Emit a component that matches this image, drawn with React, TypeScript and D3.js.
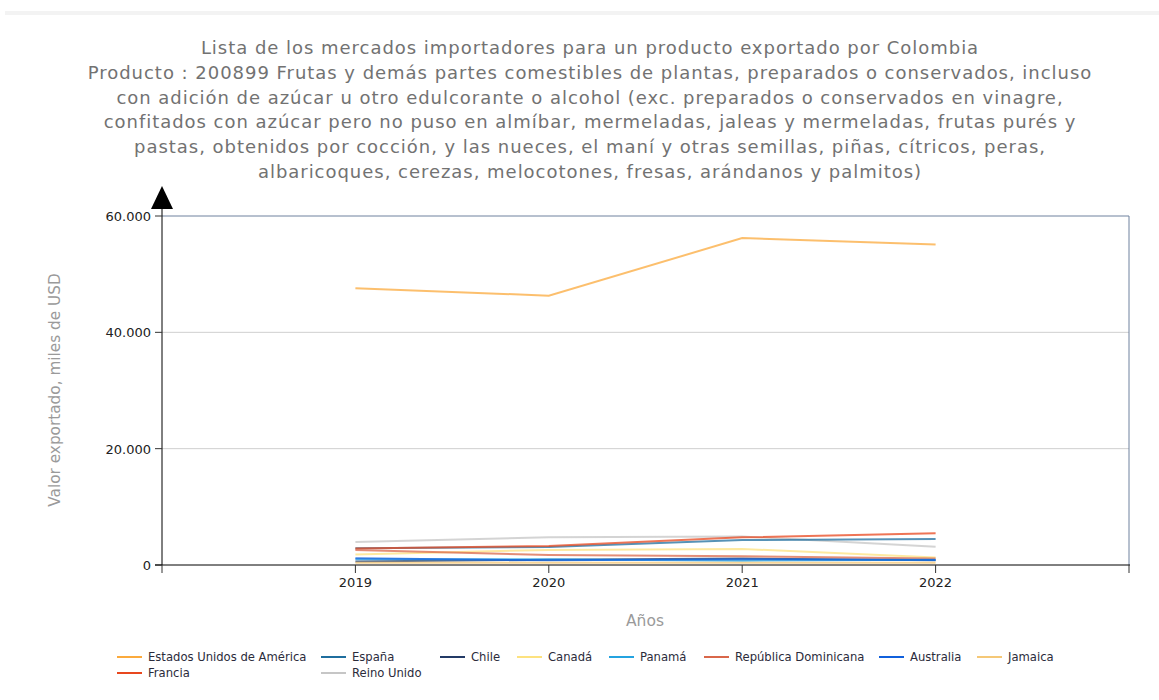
import React from "react";
import * as d3 from "d3";

const years = [2019, 2020, 2021, 2022];
const seriesNames = [
  "Estados Unidos de América",
  "España",
  "Chile",
  "Canadá",
  "Panamá",
  "República Dominicana",
  "Australia",
  "Jamaica",
  "Francia",
  "Reino Unido",
];
const seriesColors = [
  "#fbaa3c",
  "#1f6e9e",
  "#233a66",
  "#fde27f",
  "#24a3e0",
  "#d9674a",
  "#1060dc",
  "#f5c877",
  "#e8471e",
  "#c6c6c6",
];
const usaValues = [47600, 46300, 56200, 55100];
const espanaValues = [2900, 3100, 4300, 4450];
const chileValues = [600, 900, 1100, 800];
const canadaValues = [1800, 2600, 2750, 1300];
const panamaValues = [1000, 1000, 750, 900];
const repDomValues = [2600, 1700, 1500, 1100];
const australiaValues = [1150, 800, 1000, 850];
const jamaicaValues = [400, 400, 400, 400];
const franciaValues = [2850, 3250, 4750, 5450];
const reinoUnidoValues = [3950, 4750, 4900, 3150];
const seriesValues = [
  usaValues,
  espanaValues,
  chileValues,
  canadaValues,
  panamaValues,
  repDomValues,
  australiaValues,
  jamaicaValues,
  franciaValues,
  reinoUnidoValues,
];
const yTicks = [0, 20000, 40000, 60000];
const titleLines = [
  "Lista de los mercados importadores para un producto exportado por Colombia",
  "Producto : 200899 Frutas y demás partes comestibles de plantas, preparados o conservados, incluso",
  "con adición de azúcar u otro edulcorante o alcohol (exc. preparados o conservados en vinagre,",
  "confitados con azúcar pero no puso en almíbar, mermeladas, jaleas y mermeladas, frutas purés y",
  "pastas, obtenidos por cocción, y las nueces, el maní y otras semillas, piñas, cítricos, peras,",
  "albaricoques, cerezas, melocotones, fresas, arándanos y palmitos)",
];
// legend layout: [column x, row]
const legendPos: [number, number][] = [
  [117, 0], [321, 0], [440, 0], [517, 0], [609, 0], [704, 0], [879, 0], [977, 0],
  [117, 1], [321, 1],
];

const W = 1159;
const H = 700;
const left = 162;
const right = 1129;
const top = 216;
const bottom = 565;

export default function App() {
  const x = d3.scaleLinear().domain([2018, 2023]).range([left, right]);
  const y = d3.scaleLinear().domain([0, 60000]).range([bottom, top]);
  const line = d3
    .line<number>()
    .x((_, i) => x(years[i]))
    .y((d) => y(d));
  const fmt = (v: number) => d3.format(",")(v).replace(/,/g, ".");
  const font = "'DejaVu Sans', Verdana, sans-serif";
  const drawOrder = [9, 1, 8, 2, 3, 5, 4, 6, 7, 0];
  return (
    <div style={{ position: "absolute", left: 0, top: 0 }}>
      <svg width={W} height={H} style={{ display: "block", background: "#fff" }}>
        <rect x={5} y={11} width={W - 5} height={4} fill="#f3f3f3" />
        {titleLines.map((t, i) => (
          <text
            key={i}
            x={590}
            y={54 + i * 24.8}
            textAnchor="middle"
            fontFamily={font}
            fontSize={18}
            letterSpacing={0.97}
            fill="#727272"
          >
            {t}
          </text>
        ))}
        {/* gridlines */}
        {yTicks
          .filter((t) => t > 0 && t < 60000)
          .map((t) => (
            <line key={t} x1={left} x2={right} y1={y(t)} y2={y(t)} stroke="#cfcfcf" strokeWidth={1} />
          ))}
        {/* frame top & right */}
        <line x1={left} x2={right} y1={top} y2={top} stroke="#6f819e" strokeWidth={1} />
        <line x1={right} x2={right} y1={top} y2={bottom} stroke="#6f819e" strokeWidth={1} />
        {/* series */}
        {drawOrder.map((si) => (
          <path
            key={si}
            d={line(seriesValues[si]) || ""}
            fill="none"
            stroke={seriesColors[si]}
            strokeWidth={2}
            strokeOpacity={0.75}
          />
        ))}
        {/* y axis */}
        <line x1={left} x2={left} y1={bottom} y2={200} stroke="#000" strokeWidth={1} />
        <path d={`M${left - 11},${209} L${left + 11},${209} L${left},${186} Z`} fill="#000" />
        {yTicks.map((t) => (
          <g key={t}>
            <line x1={left - 7} x2={left} y1={y(t)} y2={y(t)} stroke="#333" />
            <text
              x={left - 11}
              y={y(t) + 5}
              textAnchor="end"
              fontFamily={font}
              fontSize={13}
              fill="#222"
            >
              {fmt(t)}
            </text>
          </g>
        ))}
        {/* x axis */}
        <line x1={left - 7} x2={right + 1} y1={bottom} y2={bottom} stroke="#000" strokeWidth={1} />
        {[2018, ...years, 2023].map((yr) => (
          <line key={yr} x1={x(yr)} x2={x(yr)} y1={bottom} y2={bottom + 8} stroke="#333" />
        ))}
        {years.map((yr) => (
          <text
            key={yr}
            x={x(yr)}
            y={bottom + 22}
            textAnchor="middle"
            fontFamily={font}
            fontSize={13}
            fill="#222"
          >
            {yr}
          </text>
        ))}
        {/* axis titles */}
        <text
          transform={`translate(60,${390}) rotate(-90)`}
          textAnchor="middle"
          fontFamily={font}
          fontSize={15.3}
          fill="#9a9a9a"
        >
          Valor exportado, miles de USD
        </text>
        <text x={645} y={626} textAnchor="middle" fontFamily={font} fontSize={15.5} fill="#9a9a9a">
          Años
        </text>
        {/* legend */}
        {seriesNames.map((n, i) => {
          const [lx, row] = legendPos[i];
          const ly = 657 + row * 16;
          return (
            <g key={n}>
              <line x1={lx} x2={lx + 25} y1={ly} y2={ly} stroke={seriesColors[i]} strokeWidth={2} />
              <text x={lx + 31} y={ly + 4} fontFamily={font} fontSize={11.6} fill="#2b2b3b">
                {n}
              </text>
            </g>
          );
        })}
      </svg>
    </div>
  );
}
